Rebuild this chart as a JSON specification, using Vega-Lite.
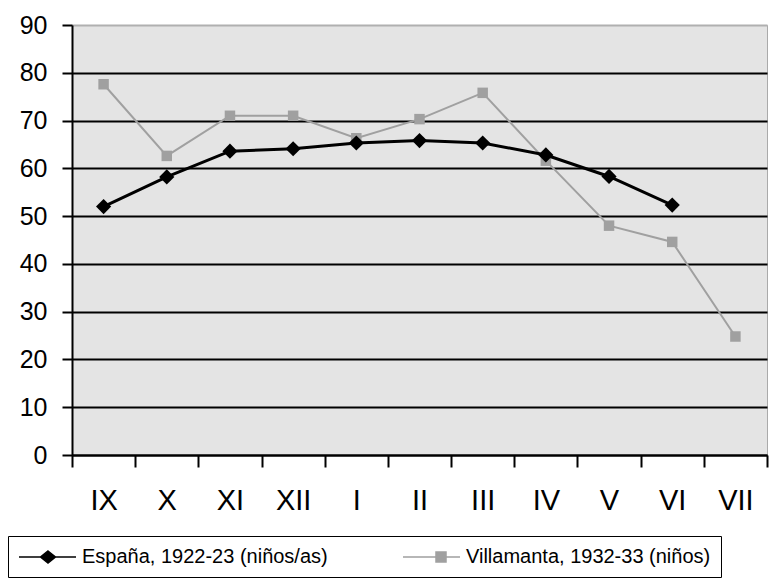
{
  "$schema": "https://vega.github.io/schema/vega-lite/v6.json",
  "autosize": "none",
  "width": 695,
  "height": 430,
  "padding": {"left": 72, "top": 25, "right": 17, "bottom": 123},
  "background": "white",
  "config": {
    "font": "Liberation Sans",
    "view": {"fill": "#e4e4e4", "stroke": "#aaaaaa", "strokeWidth": 1}
  },
  "data": {
    "values": [
      {"mes": "IX", "serie": "España, 1922-23 (niños/as)", "valor": 52.0},
      {"mes": "X", "serie": "España, 1922-23 (niños/as)", "valor": 58.2},
      {"mes": "XI", "serie": "España, 1922-23 (niños/as)", "valor": 63.6},
      {"mes": "XII", "serie": "España, 1922-23 (niños/as)", "valor": 64.1},
      {"mes": "I", "serie": "España, 1922-23 (niños/as)", "valor": 65.3},
      {"mes": "II", "serie": "España, 1922-23 (niños/as)", "valor": 65.8},
      {"mes": "III", "serie": "España, 1922-23 (niños/as)", "valor": 65.3},
      {"mes": "IV", "serie": "España, 1922-23 (niños/as)", "valor": 62.8},
      {"mes": "V", "serie": "España, 1922-23 (niños/as)", "valor": 58.3},
      {"mes": "VI", "serie": "España, 1922-23 (niños/as)", "valor": 52.3},
      {"mes": "IX", "serie": "Villamanta, 1932-33 (niños)", "valor": 77.6},
      {"mes": "X", "serie": "Villamanta, 1932-33 (niños)", "valor": 62.6},
      {"mes": "XI", "serie": "Villamanta, 1932-33 (niños)", "valor": 71.0},
      {"mes": "XII", "serie": "Villamanta, 1932-33 (niños)", "valor": 71.0},
      {"mes": "I", "serie": "Villamanta, 1932-33 (niños)", "valor": 66.3},
      {"mes": "II", "serie": "Villamanta, 1932-33 (niños)", "valor": 70.3},
      {"mes": "III", "serie": "Villamanta, 1932-33 (niños)", "valor": 75.8},
      {"mes": "IV", "serie": "Villamanta, 1932-33 (niños)", "valor": 61.6},
      {"mes": "V", "serie": "Villamanta, 1932-33 (niños)", "valor": 48.0},
      {"mes": "VI", "serie": "Villamanta, 1932-33 (niños)", "valor": 44.6},
      {"mes": "VII", "serie": "Villamanta, 1932-33 (niños)", "valor": 24.8}
    ]
  },
  "encoding": {
    "x": {
      "field": "mes",
      "type": "nominal",
      "sort": ["IX", "X", "XI", "XII", "I", "II", "III", "IV", "V", "VI", "VII"],
      "scale": {"paddingInner": 0, "paddingOuter": 0},
      "axis": {
        "title": null,
        "labelAngle": 0,
        "labelFontSize": 29,
        "labelColor": "black",
        "labelPadding": 19,
        "domainColor": "black",
        "domainWidth": 2,
        "tickColor": "black",
        "tickWidth": 2,
        "tickSize": 12,
        "tickBand": "extent",
        "grid": false
      }
    },
    "y": {
      "field": "valor",
      "type": "quantitative",
      "scale": {"domain": [0, 90], "nice": false},
      "axis": {
        "title": null,
        "values": [0, 10, 20, 30, 40, 50, 60, 70, 80, 90],
        "labelFontSize": 25,
        "labelColor": "black",
        "labelPadding": 15,
        "domainColor": "black",
        "domainWidth": 2,
        "tickColor": "black",
        "tickWidth": 2,
        "tickSize": 10,
        "grid": true,
        "gridColor": {"condition": {"test": "datum.value === 90", "value": "#b0b0b0"}, "value": "black"},
        "gridWidth": 2,
        "gridOpacity": 1
      }
    },
    "color": {
      "field": "serie",
      "type": "nominal",
      "scale": {
        "domain": ["España, 1922-23 (niños/as)", "Villamanta, 1932-33 (niños)"],
        "range": ["#000000", "#a0a0a0"]
      },
      "legend": {
        "title": null,
        "orient": "none",
        "legendX": -64,
        "legendY": 511,
        "direction": "horizontal",
        "strokeColor": "black",
        "padding": 10,
        "labelFontSize": 20,
        "labelColor": "black",
        "labelLimit": 500,
        "symbolSize": 400,
        "labelOffset": 42,
        "columnPadding": 72,
        "encode": {
          "legend": {
            "update": {"width": {"value": 752}}
          },
          "symbols": {
            "update": {
              "shape": {"signal": "indexof(datum.value, 'España') === 0 ? 'M-1.0,0H4.7M1.9,-0.6L2.65,0L1.9,0.6L1.15,0Z' : 'M-1.0,0H4.7M2.3,-0.5H3.3V0.5H2.3Z'"},
              "fill": {"signal": "indexof(datum.value, 'España') === 0 ? '#000000' : '#a0a0a0'"},
              "stroke": {"signal": "indexof(datum.value, 'España') === 0 ? '#000000' : '#a0a0a0'"}
            }
          }
        }
      }
    }
  },
  "layer": [
    {
      "transform": [{"filter": "datum.serie === 'Villamanta, 1932-33 (niños)'"}],
      "mark": {"type": "line", "strokeWidth": 2}
    },
    {
      "transform": [{"filter": "datum.serie === 'Villamanta, 1932-33 (niños)'"}],
      "mark": {"type": "point", "filled": true, "opacity": 1, "shape": "square", "size": 110}
    },
    {
      "transform": [{"filter": "datum.serie === 'España, 1922-23 (niños/as)'"}],
      "mark": {"type": "line", "strokeWidth": 3}
    },
    {
      "transform": [{"filter": "datum.serie === 'España, 1922-23 (niños/as)'"}],
      "mark": {"type": "point", "filled": true, "opacity": 1, "shape": "diamond", "size": 230}
    }
  ]
}
